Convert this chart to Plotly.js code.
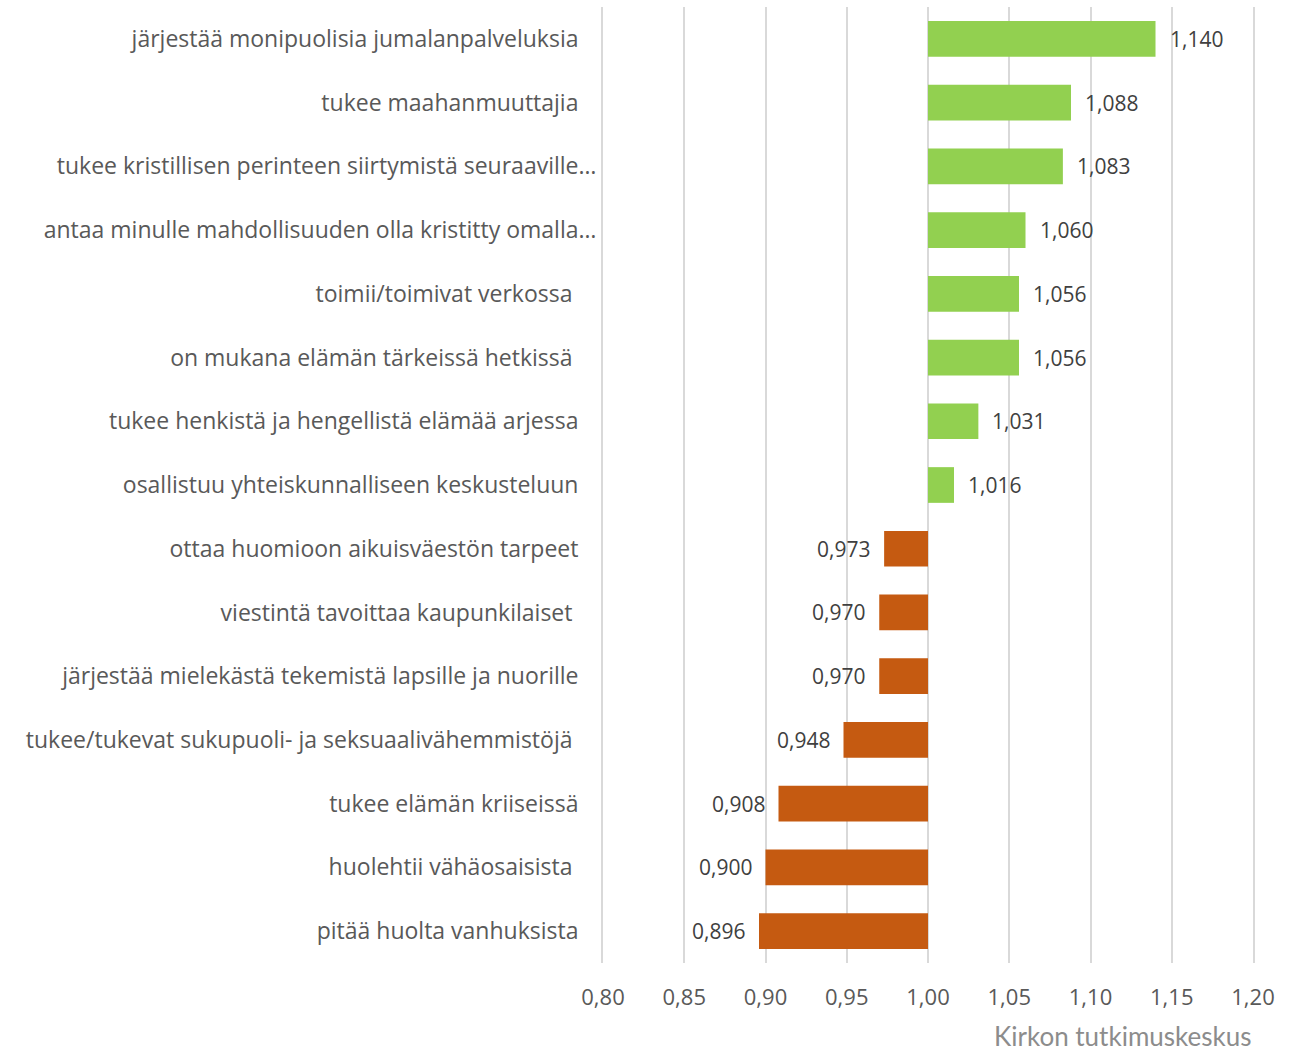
<!DOCTYPE html>
<html><head><meta charset="utf-8">
<script src="https://cdn.plot.ly/plotly-3.0.1.min.js"></script>
<style>body{margin:0;background:#fff}#c{width:1294px;height:1051px}</style>
</head><body><div id="c"></div>
<script>
const categories = [
  "järjestää monipuolisia jumalanpalveluksia",
  "tukee maahanmuuttajia",
  "tukee kristillisen perinteen siirtymistä seuraaville…",
  "antaa minulle mahdollisuuden olla kristitty omalla…",
  "toimii/toimivat verkossa ",
  "on mukana elämän tärkeissä hetkissä ",
  "tukee henkistä ja hengellistä elämää arjessa",
  "osallistuu yhteiskunnalliseen keskusteluun",
  "ottaa huomioon aikuisväestön tarpeet",
  "viestintä tavoittaa kaupunkilaiset ",
  "järjestää mielekästä tekemistä lapsille ja nuorille",
  "tukee/tukevat sukupuoli- ja seksuaalivähemmistöjä ",
  "tukee elämän kriiseissä",
  "huolehtii vähäosaisista ",
  "pitää huolta vanhuksista"
];
const values = [1.140, 1.088, 1.083, 1.060, 1.056, 1.056, 1.031, 1.016, 0.973, 0.970, 0.970, 0.948, 0.908, 0.900, 0.896];
const baseline = 1.0;
const tickVals = [0.80, 0.85, 0.90, 0.95, 1.00, 1.05, 1.10, 1.15, 1.20];
const tickText = ["0,80","0,85","0,90","0,95","1,00","1,05","1,10","1,15","1,20"];
const credit = "Kirkon tutkimuskeskus";
const colUp = "#92D050", colDown = "#C55A11";

const fmt = v => v.toFixed(3).replace('.', ',');
const FONT = '"Open Sans", Lato, sans-serif';

// Excel-like label alignment: truncated labels (…) reach further right than the others
const labelText = c => {
  if (c.endsWith('…')) return c;
  const trailing = c.endsWith(' ');
  return c.trimEnd() + '\u00a0\u00a0\u00a0' + (trailing ? '\u00a0' : '');
};

const trace = {
  type: 'bar', orientation: 'h',
  y: categories,
  x: values.map(v => v - baseline),
  base: baseline,
  marker: {color: values.map(v => v >= baseline ? colUp : colDown)},
  width: 0.56,
  hoverinfo: 'skip'
};

const annotations = values.map((v, i) => ({
  x: v, y: categories[i], xref: 'x', yref: 'y',
  text: fmt(v), showarrow: false,
  xanchor: v >= baseline ? 'left' : 'right',
  xshift: v >= baseline ? 12 : -12,
  font: {family: FONT, size: 21, color: '#404040'}
}));
annotations.push({
  xref: 'paper', yref: 'paper', x: 1, y: 0, yshift: -73, xanchor: 'right', yanchor: 'middle',
  text: credit, showarrow: false,
  font: {family: 'Lato, sans-serif', size: 26, color: '#8c8c8c'}
});

const layout = {
  width: 1294, height: 1051,
  margin: {l: 603, r: 41, t: 7, b: 88},
  paper_bgcolor: '#fff', plot_bgcolor: '#fff',
  showlegend: false,
  xaxis: {
    range: [0.80, 1.20], tickvals: tickVals, ticktext: tickText,
    showgrid: true, gridcolor: '#d9d9d9', gridwidth: 2,
    zeroline: false, showline: false, ticks: '',
    ticklabelstandoff: 19,
    tickfont: {family: FONT, size: 22, color: '#595959'}
  },
  yaxis: {
    autorange: 'reversed', showgrid: false, zeroline: false,
    tickmode: 'array', tickvals: categories, ticktext: categories.map(labelText),
    showline: true, mirror: true, linecolor: '#d9d9d9', linewidth: 2, ticks: '',
    ticklabelstandoff: 0,
    tickfont: {family: FONT, size: 23, color: '#595959'}
  },
  annotations: annotations
};

Plotly.newPlot('c', [trace], layout, {staticPlot: true, displayModeBar: false});
</script></body></html>
